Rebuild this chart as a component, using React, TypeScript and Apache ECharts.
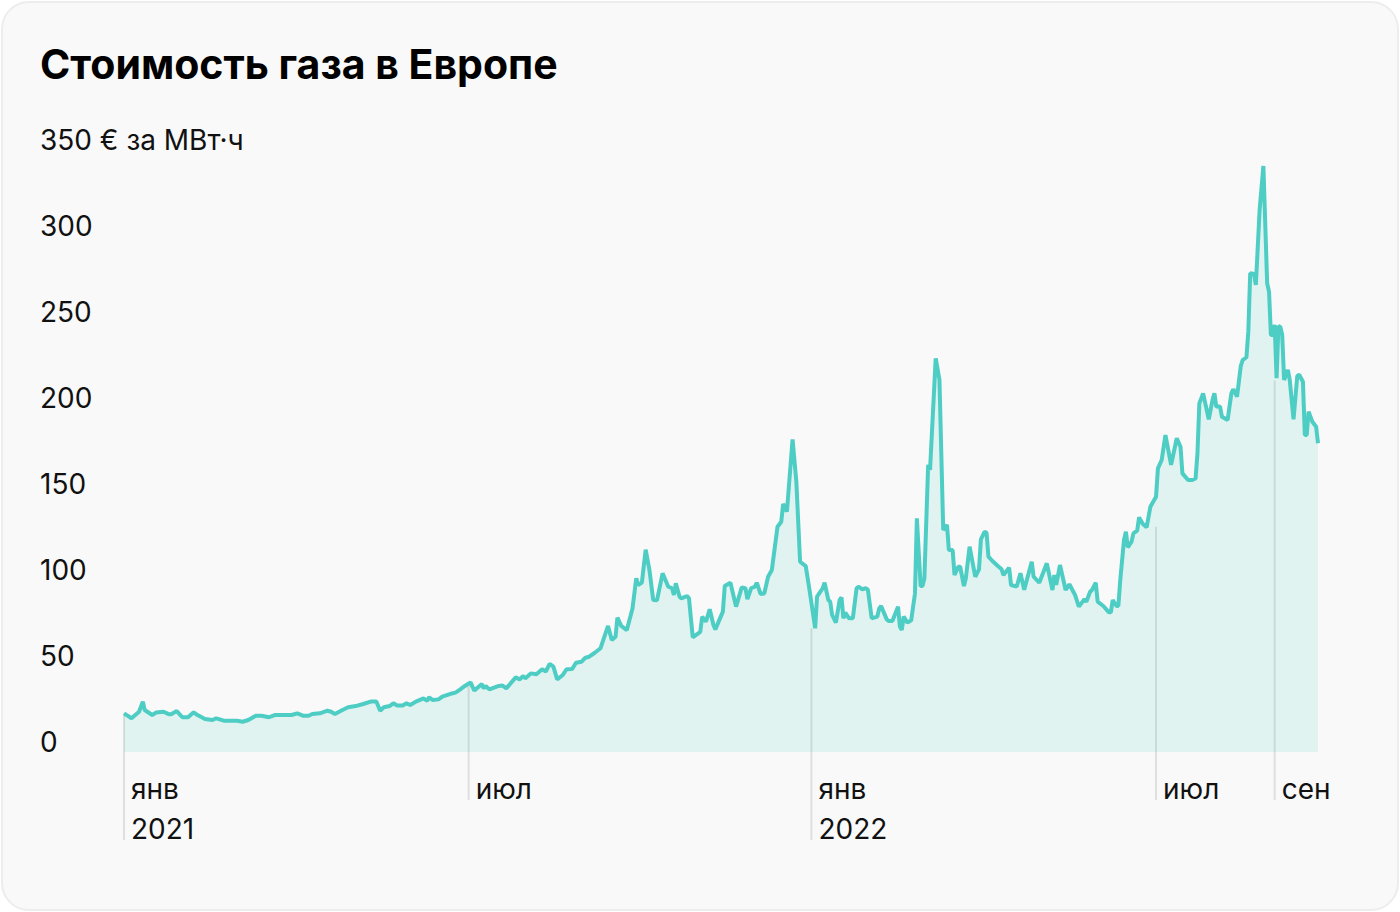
import React, { useEffect, useRef } from 'react';
import * as echarts from 'echarts';

// Position index (≈ day offset from 2021-01-01), price € per MWh
const prices2021H1: [number, number][] = [
  [0, 22.5], [4, 19.6], [8, 23.4], [10, 29.3], [11, 24.4], [15, 21.5], [17, 22.9], [21, 23.4], [24, 21.9], [25, 22],
  [28, 23.8], [31, 20.2], [34, 20.2], [37, 23.1], [39, 21.5], [43, 19.2], [47, 18.6], [49, 19.6], [53, 18.2], [60, 18.2],
  [63, 17.6], [66, 18.6], [70, 21.1], [73, 21.1], [77, 20.2], [80, 21.5], [89, 21.5], [92, 22.5], [95, 21.1], [98, 21.1],
  [100, 22.1], [104, 22.5], [108, 24], [110, 23.4], [112, 22.1], [116, 24.4], [119, 26], [123, 26.7], [127, 27.9], [131, 29.3],
  [134, 29.3], [136, 24], [138, 26], [141, 26.7], [143, 28.3], [145, 27], [148, 27.1], [150, 28.3], [152, 27.3], [155, 29.3],
  [159, 31.2], [161, 29.8], [162, 31.8], [164, 30.2], [167, 30.6], [169, 32.2], [173, 33.7], [176, 34.5], [178, 36], [181, 38.4],
];

const prices2021H2: [number, number][] = [
  [184, 40.5], [186, 35.7], [190, 39.5], [191, 37], [192, 38.4], [194, 36.4], [199, 38.4], [201, 38.6], [203, 37], [208, 43.4],
  [210, 42.2], [212, 44.2], [213, 42.8], [216, 45.7], [219, 45.2], [222, 48.1], [224, 46.8], [226, 51.2], [228, 49.6], [230, 42.2],
  [233, 44.8], [235, 48.1], [238, 48.3], [240, 51.9], [243, 52.5], [245, 54.8], [247, 55.4], [250, 57.7], [253, 60.3], [257, 73.3],
  [259, 65.1], [261, 67], [262, 78.1], [264, 73.3], [267, 70.9], [270, 83.5], [272, 101], [273, 97.1], [275, 98.5], [277, 117.6],
  [279, 105.8], [281, 88.4], [283, 88.2], [286, 103.9], [289, 96.1], [291, 95.2], [292, 91.3], [293, 98.1], [295, 90.3], [296, 89.3],
  [299, 90.7], [300, 89.3], [302, 66.7], [306, 69.9], [307, 78.7], [309, 75.8], [311, 83], [313, 73.8], [314, 71.3], [318, 81.6],
  [319, 96.5], [322, 98.4], [325, 84.5], [328, 95.7], [330, 95.2], [331, 88.9], [333, 95.2], [335, 96.1], [336, 98.4], [338, 91.9],
  [340, 92.2], [342, 101.9], [344, 105.8], [347, 131], [349, 133.9], [350, 144.2], [352, 139.7], [355, 181.8], [357, 157.2], [359, 110.6],
  [362, 108.1], [364, 94.2],
];

const prices2022H1: [number, number][] = [
  [367, 71.9], [368, 90.3], [371, 95.2], [372, 98.4], [374, 88.4], [375, 87.4], [376, 79.7], [378, 75.2], [380, 88.4], [381, 89.9],
  [382, 77.7], [383, 81], [385, 77.7], [387, 77.7], [389, 95.2], [390, 96.1], [392, 94.6], [394, 95.2], [395, 94.3], [397, 77.7],
  [400, 78.7], [401, 83.5], [402, 84.9], [405, 77.1], [406, 76.2], [408, 76.2], [411, 84.5], [412, 72.9], [413, 70.9], [414, 78.7],
  [416, 75.2], [418, 76.6], [419, 84.5], [420, 92.2], [421, 135.9], [423, 96.5], [424, 96.5], [425, 101], [427, 166.9], [428, 164],
  [431, 228.9], [433, 216.3], [435, 129.1], [437, 132], [438, 117.4], [440, 117.4], [441, 102.9], [443, 107.7], [444, 107.7], [446, 96.5],
  [447, 101], [449, 119.4], [452, 101.9], [454, 106.2], [455, 123.6], [457, 128.1], [458, 127.5], [459, 113.6], [461, 111.2], [464, 108.1],
  [466, 106.2], [467, 102.9], [470, 107.2], [471, 97.1], [474, 96.1], [476, 103.9], [478, 94.3], [482, 110.6], [483, 101.9], [486, 98.4],
  [490, 109.7], [493, 94.2], [494, 102.9], [495, 97.1], [497, 108.7], [500, 94.2], [502, 97.5], [505, 91.3], [507, 84.5], [510, 88.8],
  [511, 87.4], [513, 93.2], [514, 94.2], [516, 98.4], [517, 87.4], [520, 84.9], [523, 81.2], [524, 81.2], [525, 88.4], [527, 84.9],
  [528, 84.9], [529, 100], [531, 123.3], [532, 128.1], [533, 119], [535, 122.3], [536, 127.1], [538, 128.7], [539, 136.4], [541, 132.6],
  [543, 130.6], [545, 142.6],
];

const prices2022H2: [number, number][] = [
  [548, 148.4], [549, 164.9], [551, 169.8], [553, 184.3], [556, 166.9], [559, 182.4], [561, 177.5], [562, 162], [565, 158.1], [567, 158.1],
  [569, 159], [570, 173.7], [571, 202.7], [573, 208.5], [576, 193.4], [578, 204.7], [579, 208.5], [580, 200.8], [582, 200.8], [583, 194.9],
  [586, 193], [588, 208.5], [589, 210.9], [591, 206.6], [593, 224.4], [594, 227.9], [596, 229.5], [597, 244.4], [598, 278.3], [600, 277.9],
  [601, 271.5], [603, 315.1], [605, 340.7], [607, 272.5], [608, 267.6], [609, 242.4], [610, 242.4], [611, 248.3], [612, 217.3], [613, 247.7],
  [614, 247.1], [615, 242.4], [616, 216.3], [618, 222.1], [619, 216.3], [621, 193.4], [623, 218.6], [624, 219.4], [626, 215.3], [627, 184.3],
  [628, 184.3], [629, 197.9], [631, 192], [633, 189.1], [634, 179.5],
];

// Month boundaries on the same position scale
const monthTickDays = [0, 183, 365, 548, 611];
const monthTickLabels = ['янв\n2021', 'июл', 'янв\n2022', 'июл', 'сен'];
const dropLineTops = [22.5, 40, 72, 131, 216];

const TITLE = 'Стоимость газа в Европе';
const UNIT = '€ за МВт·ч';

export default function App() {
  const ref = useRef<HTMLDivElement>(null);

  useEffect(() => {
    document.body.style.margin = '0';
    const chart = echarts.init(ref.current!, null, { renderer: 'svg' });
    const data = [...prices2021H1, ...prices2021H2, ...prices2022H1, ...prices2022H2];
    const maxDay = data[data.length - 1][0];
    const font = 'Inter, "Noto Sans", sans-serif';

    chart.setOption({
      animation: false,
      backgroundColor: 'transparent',
      title: {
        text: TITLE,
        left: 40,
        top: 43,
        padding: 0,
        textStyle: { fontFamily: font, fontSize: 41, fontWeight: 'bold', color: '#000', lineHeight: 42 },
      },
      grid: { left: 124, right: 1400 - 1318, top: 150, bottom: 912 - 752, containLabel: false },
      xAxis: {
        type: 'value',
        min: 0,
        max: maxDay,
        axisLine: { show: false },
        axisTick: { show: false },
        splitLine: { show: false },
        axisLabel: {
          customValues: monthTickDays,
          formatter: (v: number) => {
            const i = monthTickDays.indexOf(v);
            return i >= 0 ? monthTickLabels[i] : '';
          },
          align: 'left',
          padding: [0, 0, 0, 7],
          margin: 17,
          lineHeight: 40,
          fontFamily: font,
          fontSize: 28,
          color: '#111',
        },
      },
      yAxis: {
        type: 'value',
        min: 0,
        max: 350,
        interval: 50,
        axisLine: { show: false },
        axisTick: { show: false },
        splitLine: { show: false },
        axisLabel: {
          align: 'left',
          verticalAlign: 'bottom',
          margin: 84,
          lineHeight: 20,
          fontFamily: font,
          fontSize: 28,
          color: '#111',
          formatter: (v: number) => (v === 350 ? `${v} ${UNIT}` : `${v}`),
        },
      },
      series: [
        {
          type: 'line',
          data,
          showSymbol: false,
          silent: true,
          z: 1,
          lineStyle: { width: 0, opacity: 0 },
          areaStyle: { color: '#e0f3f0', opacity: 1 },
        },
        {
          type: 'custom',
          z: 2,
          silent: true,
          clip: false,
          data: monthTickDays.map((d, i) => [d, dropLineTops[i], monthTickLabels[i].includes('\n') ? 1 : 0]),
          encode: { x: 0, y: 1 },
          renderItem: (params: any, api: any) => {
            const top = api.coord([api.value(0), api.value(1)]);
            const base = api.coord([api.value(0), 0]);
            const ext = api.value(2) ? 88 : 48;
            return {
              type: 'line',
              shape: { x1: top[0], y1: top[1], x2: top[0], y2: base[1] + ext },
              style: { stroke: 'rgba(0,0,0,0.1)', lineWidth: 2 },
            };
          },
        },
        {
          type: 'line',
          data,
          showSymbol: false,
          silent: true,
          z: 3,
          lineStyle: { color: '#4ecdc4', width: 4 },
        },
      ],
    });
    return () => chart.dispose();
  }, []);

  return (
    <div style={{ position: 'fixed', left: 0, top: 0, width: 1400, height: 912, background: '#fff' }}>
      <div
        style={{
          position: 'absolute',
          left: 1,
          top: 1,
          width: 1398,
          height: 910,
          boxSizing: 'border-box',
          background: '#f9f9f9',
          border: '2px solid #ededed',
          borderRadius: 28,
        }}
      />
      <div ref={ref} style={{ position: 'absolute', left: 0, top: 0, width: 1400, height: 912 }} />
    </div>
  );
}
